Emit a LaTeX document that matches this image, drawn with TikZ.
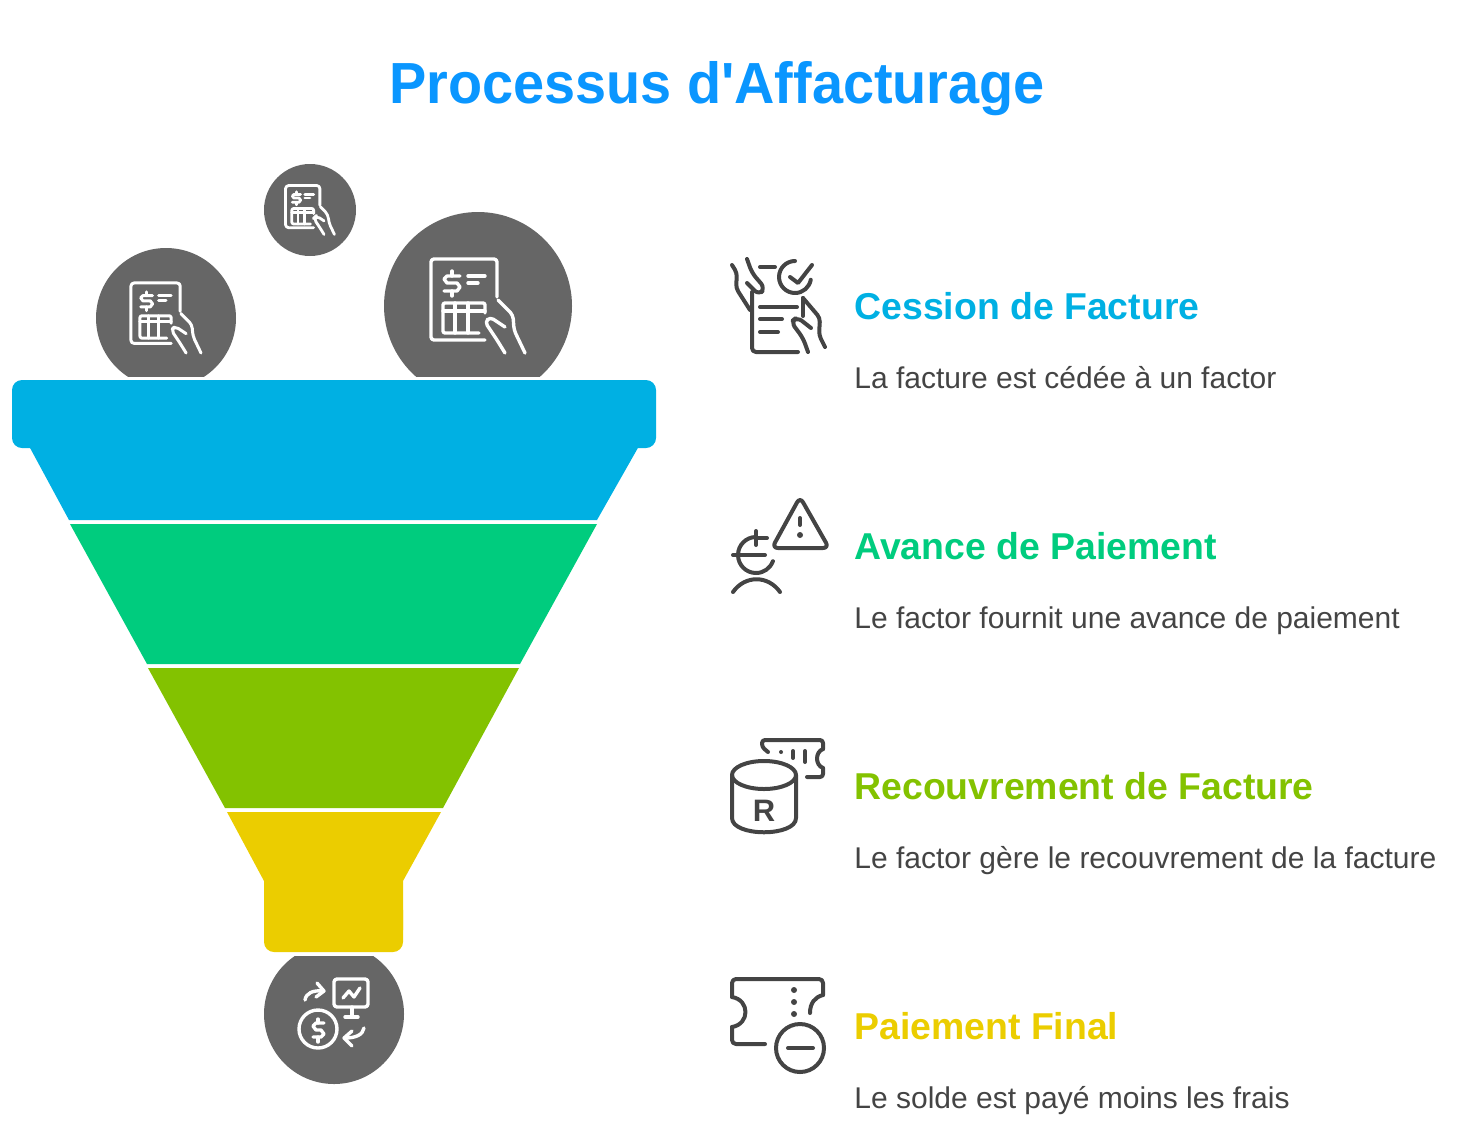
\documentclass[tikz,border=0pt]{standalone}
\usepackage{fontspec}
\setsansfont{Liberation Sans}
\newfontfamily\titlefont[FakeStretch=.963]{Liberation Sans}
\definecolor{colortitle}{RGB}{10,150,255}
\definecolor{colorcession}{RGB}{0,176,227}
\definecolor{coloravance}{RGB}{0,204,126}
\definecolor{colorrecouv}{RGB}{131,194,0}
\definecolor{colorfinal}{RGB}{235,205,0}
\definecolor{colorball}{RGB}{102,102,102}
\definecolor{colortext}{RGB}{68,68,68}
\tikzset{
  headlabel/.style={anchor=base west,inner sep=0pt,font=\sffamily\bfseries\fontsize{18.7}{22}\selectfont},
  bodylabel/.style={anchor=base west,inner sep=0pt,text=colortext,font=\sffamily\fontsize{15}{18}\selectfont},
  iconline/.style={draw=colortext,line width=2pt,line cap=round,line join=round},
  whiteline/.style={draw=white,line width=1.7pt,line cap=round,line join=round},
  invoiceicon/.pic={
    \draw[rounded corners=1.5pt] (7,34) -- (-47,34) -- (-47,-47) -- (19,-47) -- (19,-9);
    \draw (-18,-30) -- (-31,-30) -- (-34,-27) -- (-31,-23) -- (-21,-23) -- (-18,-19) -- (-21,-15) -- (-34,-15);
    \draw (-26,-35) -- (-26,-30) (-26,-15) -- (-26,-10);
    \draw (-10,-30) -- (7,-30) (-10,-23) -- (0,-23);
    \draw[rounded corners=1pt] (1,27) -- (-35,27) -- (-35,-3) -- (7,-3) -- (7,7);
    \draw (-35,5) -- (7,5) (-23,-3) -- (-23,27) (-10,-3) -- (-10,27);
    \draw[rounded corners=2pt] (20,-6) -- (35,9) -- (36,24) -- (47,47);
    \draw[rounded corners=2pt] (27,21) -- (12,11) -- (7,16) -- (19,34) -- (27,47);
  }
}
\begin{document}
\begin{tikzpicture}[x=.5pt,y=.5pt,yscale=-1]
  \useasboundingbox (0,0) rectangle (1465,1135);

  \node[anchor=base,inner sep=0pt,text=colortitle,font=\titlefont\bfseries\fontsize{29}{34}\selectfont] (title) at (717,103) {Processus d'Affacturage};

  % balls above the funnel
  \fill[colorball] (310,210) circle (46);
  \begin{scope}
    \clip (0,100) rectangle (700,376);
    \fill[colorball] (166,318) circle (70);
    \fill[colorball] (478,306) circle (94);
  \end{scope}
  \pic[whiteline,scale=.52,yscale=-1,line width=1.4pt] at (310,210) {invoiceicon};
  \pic[whiteline,scale=.745,yscale=-1,line width=1.5pt] at (166,318) {invoiceicon};
  \pic[whiteline,yscale=-1] at (478,306) {invoiceicon};

  % funnel
  \fill[colorcession] (29,446) -- (639,446) -- (597,520) -- (69,520) -- cycle;
  \fill[colorcession,rounded corners=5pt] (12,380) rectangle (656,448);
  \fill[coloravance] (70,524) -- (597,524) -- (520,664) -- (147,664) -- cycle;
  \fill[colorrecouv] (148,668) -- (519,668) -- (443,808) -- (225,808) -- cycle;
  \fill[colorfinal] (227,812) -- (441,812) -- (403,881) -- (403,930) -- (264,930) -- (264,881) -- cycle;
  \fill[colorfinal,rounded corners=5pt] (264,900) rectangle (403,952);

  % ball below the funnel
  \begin{scope}
    \clip (200,956) rectangle (460,1100);
    \fill[colorball] (334,1014) circle (70);
  \end{scope}
  \begin{scope}[whiteline]
    \draw[rounded corners=1.5pt] (334,979) rectangle (368,1007);
    \draw (352,1007) -- (352,1017) (345,1017) -- (358,1017);
    \draw (343,998) -- (349,991) -- (354,997) -- (360,988);
    \draw (305,1000) .. controls (306,993) and (313,990) .. (323,991);
    \draw (317,983) -- (324,991) -- (316,997);
    \draw (318,1029) circle (19);
    \draw (324,1023) -- (316,1023) -- (313,1026) -- (316,1030) -- (321,1030) -- (324,1034) -- (321,1037) -- (313,1037);
    \draw (318,1019) -- (318,1023) (318,1037) -- (318,1042);
    \draw (364,1028) .. controls (363,1035) and (355,1038) .. (345,1038);
    \draw (352,1031) -- (344,1038) -- (352,1046);
  \end{scope}

  % cession icon
  \begin{scope}[iconline]
    \draw[rounded corners=2pt] (752,292) -- (752,352) -- (798,352);
    \draw (760,267) -- (775,267);
    \draw (795,261) arc (270:10:16);
    \draw (790,277) -- (798,283) -- (812,265);
    \draw[rounded corners=2pt] (732,265) -- (737,273) -- (736,288) -- (750,310);
    \draw[rounded corners=3pt] (747,259) -- (752,273) -- (765,288) -- (759,295) -- (747,283);
    \draw (760,307) -- (797,307) (760,319) -- (782,319) (760,332) -- (778,332);
    \draw[rounded corners=2pt] (803,298) -- (820,318) -- (819,335) -- (825,347);
    \draw (803,298) -- (803,316);
    \draw[rounded corners=3pt] (811,328) -- (797,317) -- (791,322) -- (803,338) -- (808,352);
  \end{scope}

  % avance icon
  \begin{scope}[iconline]
    \draw[rounded corners=3pt] (800,497) -- (829,548) -- (772,548) -- cycle;
    \draw (800,518) -- (800,525);
    \fill[colortext] (800,535) circle (3);
    \draw (756,537) arc (270:20:18);
    \draw (733,555) -- (765,555);
    \draw (756,531) -- (756,545) (756,538) -- (767,538);
    \draw (733,592) .. controls (745,575) and (768,575) .. (780,592);
  \end{scope}

  % recouvrement icon
  \begin{scope}[iconline]
    \draw (764,775) ellipse (32 and 14);
    \draw (732,775) -- (732,818) .. controls (732,837) and (796,837) .. (796,818) -- (796,775);
    \draw[rounded corners=1.5pt] (768,752) -- (762,747) -- (762,740) -- (823,740) -- (823,749);
    \draw (823,749) .. controls (815,752) and (815,765) .. (823,768);
    \draw[rounded corners=1.5pt] (823,768) -- (823,777) -- (807,777);
    \fill[colortext] (781,752) circle (2);
    \draw (793,751) -- (793,758) (805,751) -- (805,762);
  \end{scope}
  \node[inner sep=0pt,text=colortext,font=\sffamily\bfseries\fontsize{15.5}{18}\selectfont] (letterR) at (764,811) {R};

  % final icon
  \begin{scope}[iconline]
    \draw[rounded corners=2pt] (765,1044) -- (732,1044) -- (732,1027);
    \draw (732,1027) .. controls (750,1024) and (750,1000) .. (732,997);
    \draw[rounded corners=2pt] (732,997) -- (732,979) -- (823,979) -- (823,995);
    \draw (823,995) .. controls (815,997) and (810,1003) .. (810,1013);
    \fill[colortext] (794,990) circle (3) (794,1002) circle (3) (794,1014) circle (3);
    \draw (800,1048) circle (24);
    \draw (788,1048) -- (813,1048);
  \end{scope}

  % labels
  \node[headlabel,text=colorcession] (cessionhead) at (854,319) {Cession de Facture};
  \node[bodylabel] (cessionbody) at (854,388) {La facture est cédée à un factor};
  \node[headlabel,text=coloravance] (avancehead) at (854,559) {Avance de Paiement};
  \node[bodylabel] (avancebody) at (854,628) {Le factor fournit une avance de paiement};
  \node[headlabel,text=colorrecouv] (recouvhead) at (854,799) {Recouvrement de Facture};
  \node[bodylabel] (recouvbody) at (854,868) {Le factor gère le recouvrement de la facture};
  \node[headlabel,text=colorfinal] (finalhead) at (854,1039) {Paiement Final};
  \node[bodylabel] (finalbody) at (854,1108) {Le solde est payé moins les frais};
\end{tikzpicture}
\end{document}
